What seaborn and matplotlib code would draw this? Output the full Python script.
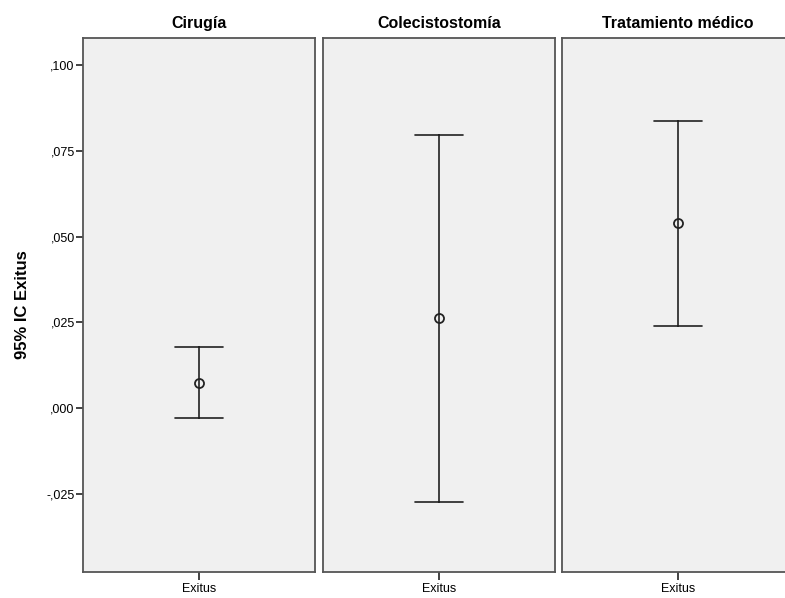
import matplotlib
matplotlib.use("Agg")
import matplotlib.pyplot as plt
import seaborn as sns
import pandas as pd
from matplotlib.ticker import FuncFormatter

sns.set_theme(style="white")
plt.rcParams['font.family'] = ['Liberation Sans', 'DejaVu Sans']
plt.rcParams['text.color'] = 'black'
plt.rcParams['axes.labelcolor'] = 'black'
plt.rcParams['xtick.color'] = 'black'
plt.rcParams['ytick.color'] = 'black'

groups = ["Cirugía", "Colecistostomía", "Tratamiento médico"]
variable = "Exitus"
means = [0.0073, 0.0263, 0.0540]
lower = [-0.0029, -0.0274, 0.0239]
upper = [0.0178, 0.0796, 0.0837]
yticks = [-0.025, 0.0, 0.025, 0.05, 0.075, 0.1]

W, H = 785, 598
fig = plt.figure(figsize=(W / 100, H / 100), dpi=100)

panel_left = [83, 323, 562]
panel_w = 232
top, bottom = 38, 572

for i, g in enumerate(groups):
    ax = fig.add_axes([panel_left[i] / W, 1 - bottom / H, panel_w / W, (bottom - top) / H])
    df = pd.DataFrame({"var": [variable] * 3, "val": [lower[i], means[i], upper[i]]})
    sns.pointplot(data=df, x="var", y="val", ax=ax, estimator="median",
                  errorbar=lambda v: (v.min(), v.max()),
                  color="#222222", markers="o", linestyle="none",
                  capsize=0.21, err_kws={"linewidth": 1.2},
                  markersize=6.5, markerfacecolor="#F0F0F0",
                  markeredgewidth=1.3, markeredgecolor="#222222")
    ax.set_facecolor("#F0F0F0")
    ax.set_xlim(-0.5, 0.5)
    ax.set_ylim(-0.0478, 0.1079)
    for s in ax.spines.values():
        s.set_color("#555555")
        s.set_linewidth(1.3)
    ax.set_title(g, fontsize=11.5, fontweight="bold", pad=7, color="black")
    ax.set_xlabel("")
    ax.tick_params(axis="x", bottom=True, length=6, width=1.2, color="#222222",
                   labelsize=9, pad=2)
    if i == 0:
        ax.set_yticks(yticks)
        ax.yaxis.set_major_formatter(FuncFormatter(
            lambda v, p: ("-" if v < -1e-9 else "") + ("%.3f" % abs(v))[1:].replace(".", ",")))
        ax.tick_params(axis="y", left=True, length=5, width=1.2, color="#222222",
                       labelsize=9, pad=1)
        ax.set_ylabel("95% IC Exitus", fontsize=12, fontweight="bold", labelpad=12)
    else:
        ax.set_yticks(yticks)
        ax.set_yticklabels([])
        ax.tick_params(axis="y", left=False)
        ax.set_ylabel("")

fig.savefig("out.png", dpi=100, facecolor="white")
